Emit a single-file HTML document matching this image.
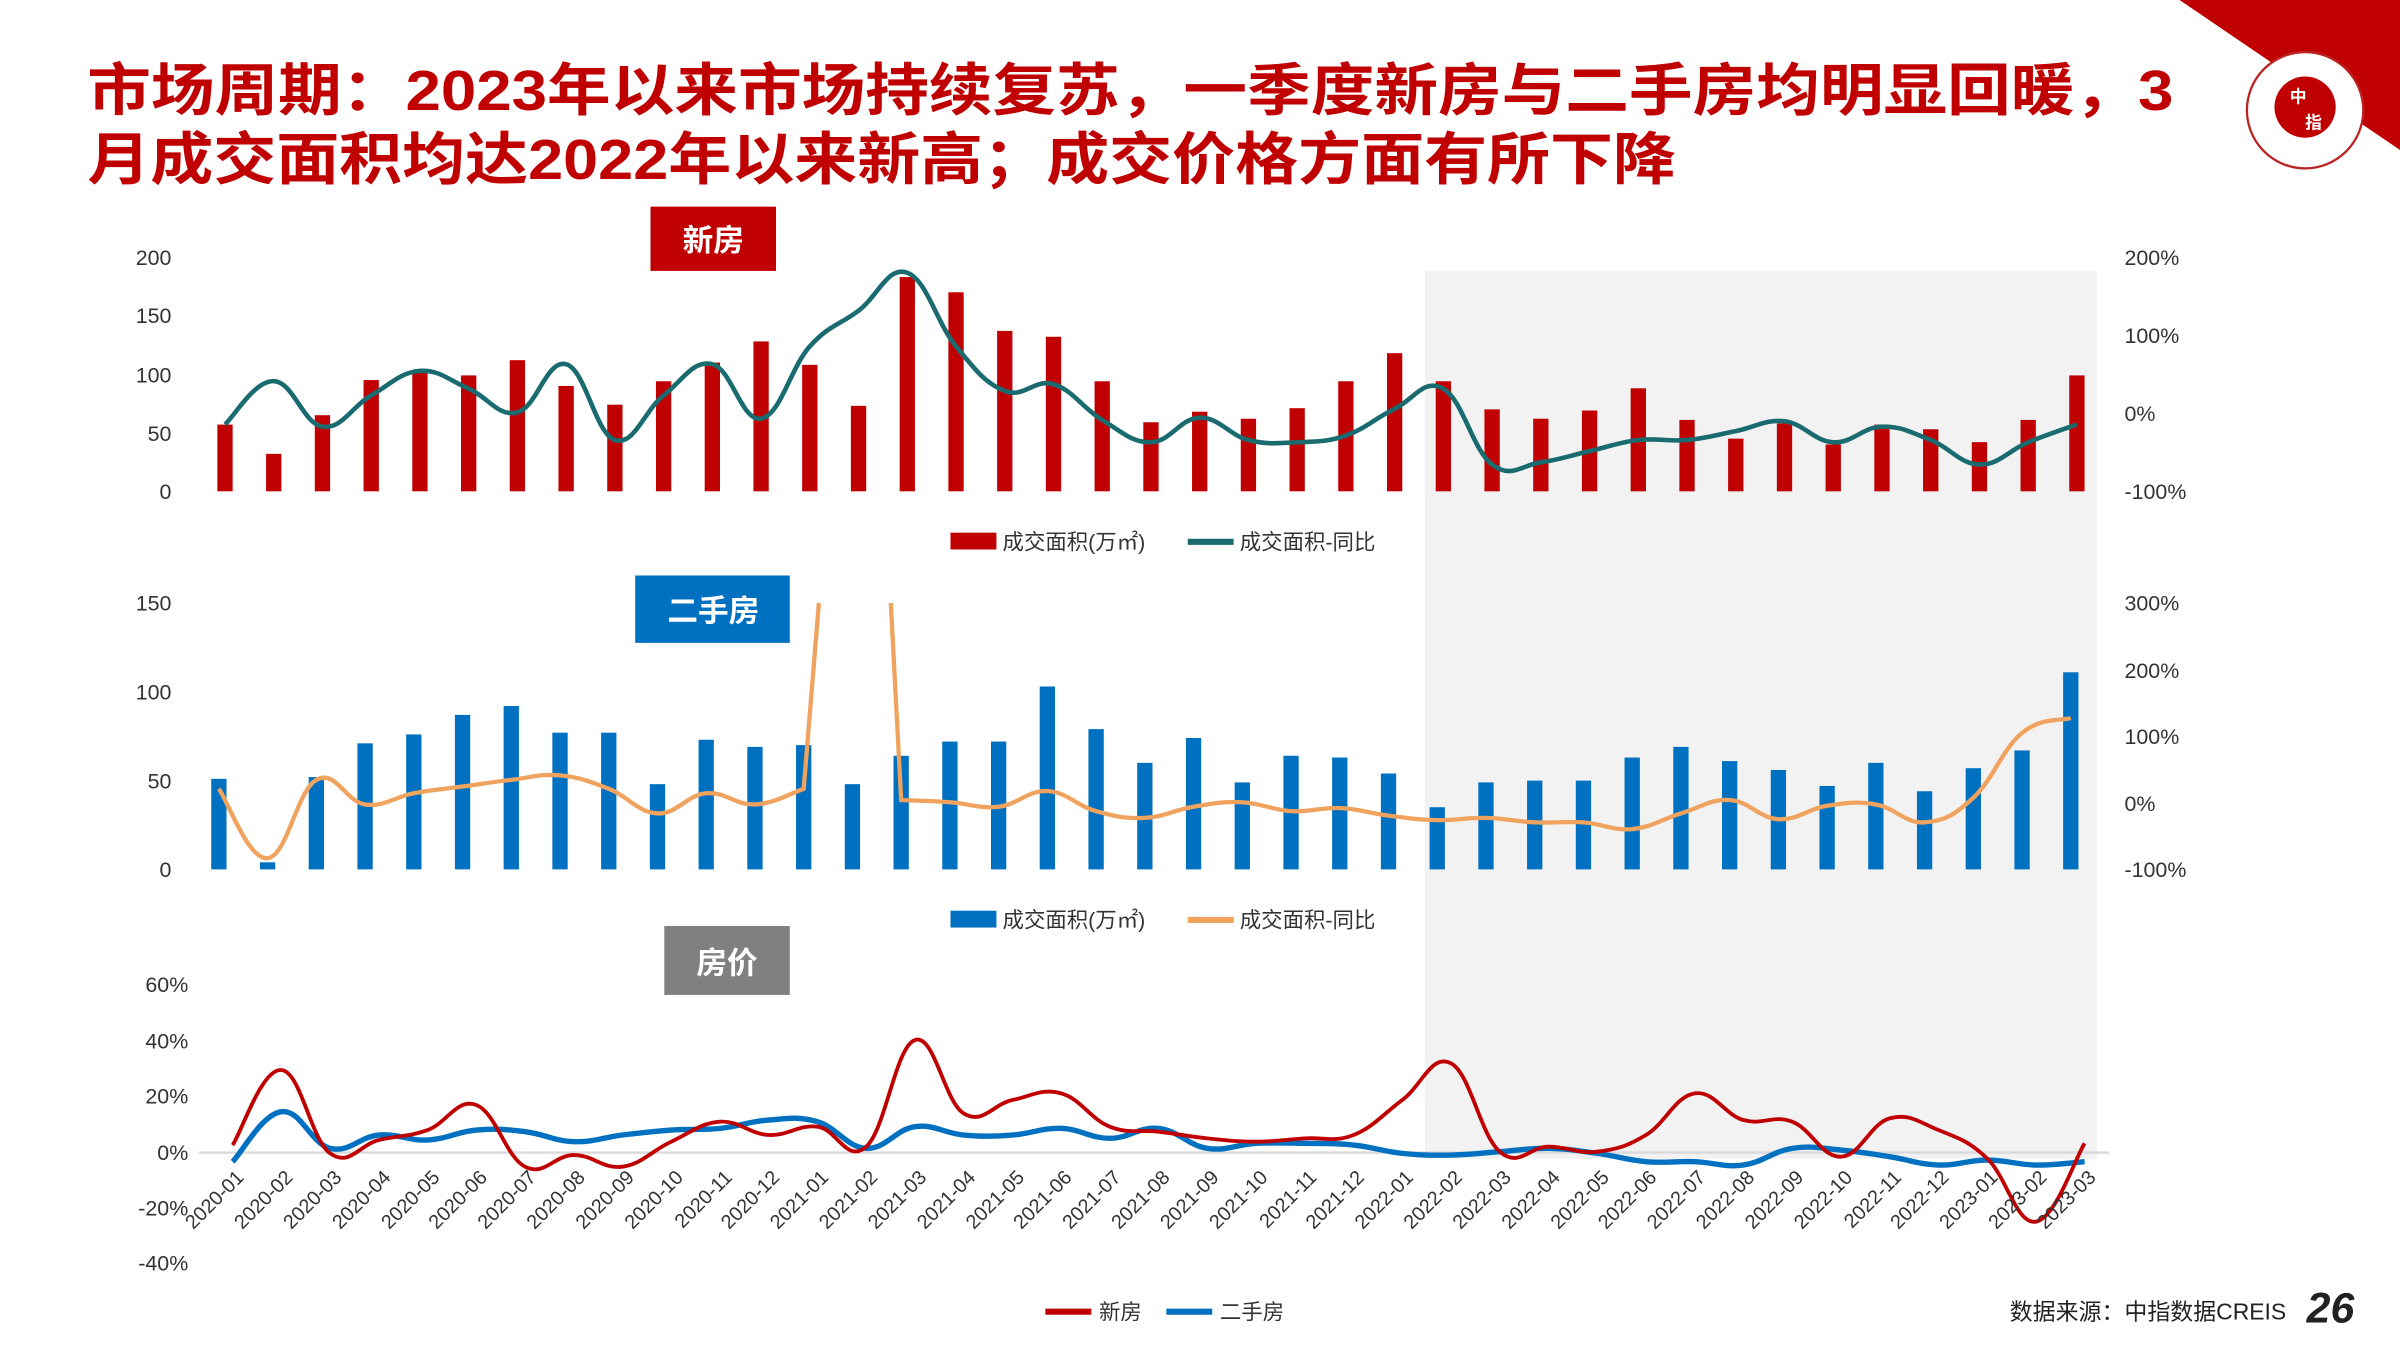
<!DOCTYPE html>
<html><head><meta charset="utf-8">
<style>
html,body{margin:0;padding:0;background:#fff;}
svg{display:block;}
text{font-family:"Liberation Sans","Noto Sans CJK SC",sans-serif;}
</style></head>
<body>
<svg id="s" width="2400" height="1350" viewBox="0 0 1568 882" xmlns="http://www.w3.org/2000/svg">
<rect width="1568" height="882" fill="#fff"/>
<rect x="931" y="177" width="439" height="580" fill="#f2f2f2"/>
<polygon points="1424,0 1568,0 1568,98" fill="#c00000"/>
<circle cx="1506" cy="72" r="38" fill="#fff" stroke="#b22" stroke-width="1.5"/>
<circle cx="1506" cy="70" r="20" fill="#c00000"/>
<text x="1496" y="67" font-size="11" fill="#fff" font-weight="bold">中</text>
<text x="1506" y="84" font-size="11" fill="#fff" font-weight="bold">指</text>
<text font-size="37" font-weight="bold" fill="#c00000"><tspan x="57" y="72" textLength="1363" lengthAdjust="spacingAndGlyphs">市场周期：2023年以来市场持续复苏，一季度新房与二手房均明显回暖，3</tspan><tspan x="57" y="117" textLength="1038" lengthAdjust="spacingAndGlyphs">月成交面积均达2022年以来新高；成交价格方面有所下降</tspan></text>

<rect x="425" y="135" width="82" height="42" fill="#c00000"/>
<text x="466" y="164" font-size="20" font-weight="bold" fill="#fff" text-anchor="middle">新房</text>
<rect x="415" y="376" width="101" height="44" fill="#0070c0"/>
<text x="466" y="406" font-size="20" font-weight="bold" fill="#fff" text-anchor="middle">二手房</text>
<rect x="434" y="605" width="82" height="45" fill="#808080"/>
<text x="475" y="636" font-size="20" font-weight="bold" fill="#fff" text-anchor="middle">房价</text>

<g font-size="14" fill="#333" text-anchor="end">
<text x="112" y="173">200</text><text x="112" y="211">150</text><text x="112" y="250">100</text><text x="112" y="288">50</text><text x="112" y="326">0</text>
<text x="112" y="399">150</text><text x="112" y="457">100</text><text x="112" y="515">50</text><text x="112" y="573">0</text>
<text x="123" y="648">60%</text><text x="123" y="685">40%</text><text x="123" y="721">20%</text><text x="123" y="758">0%</text><text x="123" y="794">-20%</text><text x="123" y="830">-40%</text>
</g>
<g font-size="14" fill="#333">
<text x="1388" y="173">200%</text><text x="1388" y="224">100%</text><text x="1388" y="275">0%</text><text x="1388" y="326">-100%</text>
<text x="1388" y="399">300%</text><text x="1388" y="443">200%</text><text x="1388" y="486">100%</text><text x="1388" y="530">0%</text><text x="1388" y="573">-100%</text>
</g>
<line x1="130" y1="753" x2="1378" y2="753" stroke="#d9d9d9" stroke-width="1.5"/>
<g id="g"></g>

<rect x="621" y="348" width="30" height="11" fill="#c00000"/>
<text x="655" y="359" font-size="14" fill="#333">成交面积(万㎡)</text>
<line x1="776" y1="354" x2="806" y2="354" stroke="#1a6b70" stroke-width="4"/>
<text x="810" y="359" font-size="14" fill="#333">成交面积-同比</text>
<rect x="621" y="595" width="30" height="11" fill="#0070c0"/>
<text x="655" y="606" font-size="14" fill="#333">成交面积(万㎡)</text>
<line x1="776" y1="601" x2="806" y2="601" stroke="#f0a35e" stroke-width="4"/>
<text x="810" y="606" font-size="14" fill="#333">成交面积-同比</text>
<line x1="683" y1="857" x2="713" y2="857" stroke="#c00000" stroke-width="4"/>
<text x="718" y="862" font-size="14" fill="#333">新房</text>
<line x1="762" y1="857" x2="792" y2="857" stroke="#0070c0" stroke-width="4"/>
<text x="797" y="862" font-size="14" fill="#333">二手房</text>
<text x="1313" y="862" font-size="15" fill="#222">数据来源：中指数据CREIS</text>
<text x="1507" y="864" font-size="28" font-weight="bold" font-style="italic" fill="#222">26</text>
<g font-size="13" fill="#333" text-anchor="end">
<text transform="translate(160,770) rotate(-45)">2020-01</text><text transform="translate(192,770) rotate(-45)">2020-02</text><text transform="translate(224,770) rotate(-45)">2020-03</text><text transform="translate(256,770) rotate(-45)">2020-04</text><text transform="translate(288,770) rotate(-45)">2020-05</text><text transform="translate(319,770) rotate(-45)">2020-06</text><text transform="translate(351,770) rotate(-45)">2020-07</text><text transform="translate(383,770) rotate(-45)">2020-08</text><text transform="translate(415,770) rotate(-45)">2020-09</text><text transform="translate(447,770) rotate(-45)">2020-10</text><text transform="translate(479,770) rotate(-45)">2020-11</text><text transform="translate(510,770) rotate(-45)">2020-12</text><text transform="translate(542,770) rotate(-45)">2021-01</text><text transform="translate(574,770) rotate(-45)">2021-02</text><text transform="translate(606,770) rotate(-45)">2021-03</text><text transform="translate(638,770) rotate(-45)">2021-04</text><text transform="translate(670,770) rotate(-45)">2021-05</text><text transform="translate(701,770) rotate(-45)">2021-06</text><text transform="translate(733,770) rotate(-45)">2021-07</text><text transform="translate(765,770) rotate(-45)">2021-08</text><text transform="translate(797,770) rotate(-45)">2021-09</text><text transform="translate(829,770) rotate(-45)">2021-10</text><text transform="translate(861,770) rotate(-45)">2021-11</text><text transform="translate(892,770) rotate(-45)">2021-12</text><text transform="translate(924,770) rotate(-45)">2022-01</text><text transform="translate(956,770) rotate(-45)">2022-02</text><text transform="translate(988,770) rotate(-45)">2022-03</text><text transform="translate(1020,770) rotate(-45)">2022-04</text><text transform="translate(1052,770) rotate(-45)">2022-05</text><text transform="translate(1083,770) rotate(-45)">2022-06</text><text transform="translate(1115,770) rotate(-45)">2022-07</text><text transform="translate(1147,770) rotate(-45)">2022-08</text><text transform="translate(1179,770) rotate(-45)">2022-09</text><text transform="translate(1211,770) rotate(-45)">2022-10</text><text transform="translate(1243,770) rotate(-45)">2022-11</text><text transform="translate(1274,770) rotate(-45)">2022-12</text><text transform="translate(1306,770) rotate(-45)">2023-01</text><text transform="translate(1338,770) rotate(-45)">2023-02</text><text transform="translate(1370,770) rotate(-45)">2023-03</text>
</g>
</svg>
<script>
var NS="http://www.w3.org/2000/svg",g=document.getElementById('g');
function X(i){return 147+31.84*i;}
function el(t,a){var e=document.createElementNS(NS,t);for(var k in a)e.setAttribute(k,a[k]);g.appendChild(e);return e;}
function path(pts){var d="M"+pts[0][0]+","+pts[0][1];for(var i=0;i<pts.length-1;i++){var p0=pts[i-1]||pts[i],p1=pts[i],p2=pts[i+1],p3=pts[i+2]||p2;var t=0.2;d+=" C"+(p1[0]+(p2[0]-p0[0])*t)+","+(p1[1]+(p2[1]-p0[1])*t)+" "+(p2[0]-(p3[0]-p1[0])*t)+","+(p2[1]-(p3[1]-p1[1])*t)+" "+p2[0]+","+p2[1];}return d;}
var nb=[57,32,65,95,103,99,112,90,74,94,110,128,108,73,183,170,137,132,94,59,68,62,71,94,118,94,70,62,69,88,61,45,58,40,57,53,42,61,99];
nb.forEach(function(v,i){el('rect',{x:X(i)-5,y:321-v*0.765,width:10,height:v*0.765,fill:'#c00000'});});
var tz=[505,408,510,440,385,425,478,370,540,440,370,492,330,250,165,330,430,415,495,545,490,540,545,530,470,425,595,590,565,540,540,520,498,545,510,540,595,545,505];
el('path',{d:path(tz.map(function(z,i){return [X(i),168+(z-130)*0.2914];})),fill:'none',stroke:'#1a6b70','stroke-width':3});
var sb=[51,4,52,71,76,87,92,77,77,48,73,69,70,48,64,72,72,103,79,60,74,49,64,63,54,35,49,50,50,63,69,61,56,47,60,44,57,67,111];
sb.forEach(function(v,i){el('rect',{x:X(i)-9,y:568-v*1.16,width:10,height:v*1.16,fill:'#0070c0'});});
function oy(z){return 394+(z-905)*0.2924;}
var oz=[1320,1475,1300,1355,1330,1315,1300,1290,1320,1375,1330,1355,1320];
var o1=oz.map(function(z,i){return [X(i)-4,oy(z)];});
el('path',{d:path(o1)+" L535,"+oy(905),fill:'none',stroke:'#f0a35e','stroke-width':2.8});
var oz2=[1345,1350,1360,1325,1370,1385,1360,1350,1370,1363,1380,1390,1385,1395,1395,1410,1375,1345,1388,1358,1355,1395,1340,1195,1162];
var o2=oz2.map(function(z,i){return [X(i+14)-4,oy(z)];});
el('path',{d:"M582,"+oy(905)+" L"+o2[0][0]+","+o2[0][1]+" "+path(o2).replace(/^M[^C]*/,''),fill:'none',stroke:'#f0a35e','stroke-width':2.8});
function py(z){return 588+z*0.2178;}
var rz=[735,510,760,720,690,615,800,765,800,725,665,705,680,740,420,640,600,580,680,695,715,725,715,705,600,490,755,740,755,705,580,660,665,770,655,690,775,965,730];
var bz=[785,635,745,705,720,690,695,725,705,690,685,660,665,745,680,705,705,685,715,685,745,730,730,735,760,765,755,745,760,785,785,795,745,750,770,795,780,795,785];
el('path',{d:path(bz.map(function(z,i){return [X(i)+5,py(z)];})),fill:'none',stroke:'#0070c0','stroke-width':3.5});
el('path',{d:path(rz.map(function(z,i){return [X(i)+5,py(z)];})),fill:'none',stroke:'#c00000','stroke-width':2.5});
</script>
</body></html>
